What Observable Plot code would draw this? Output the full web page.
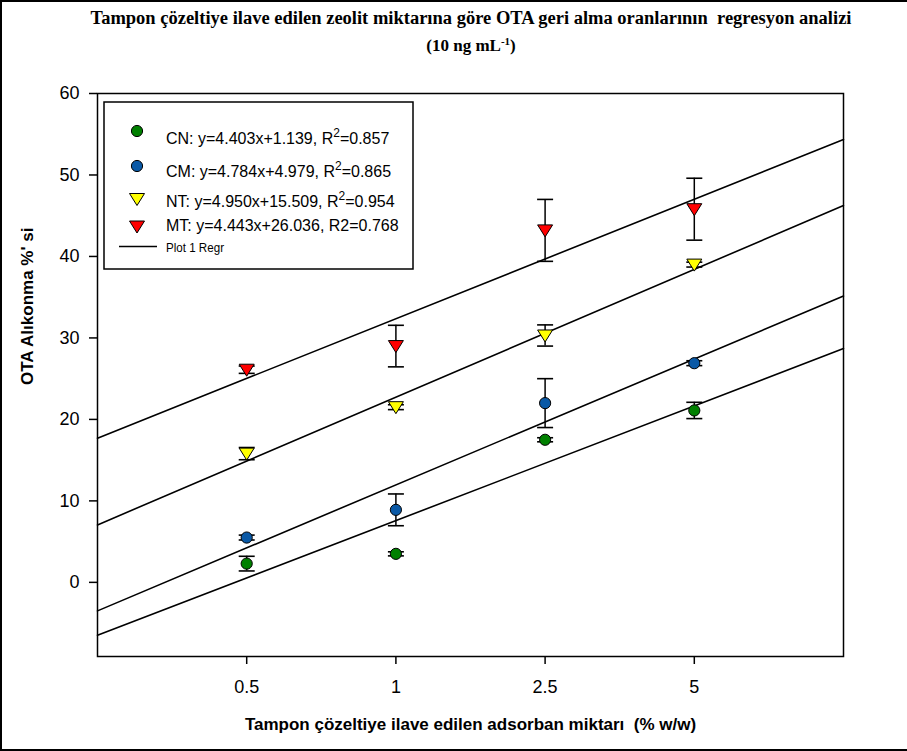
<!DOCTYPE html>
<html>
<head>
<meta charset="utf-8">
<script src="https://cdn.jsdelivr.net/npm/d3@7"></script>
<script src="https://cdn.jsdelivr.net/npm/@observablehq/plot@0.6"></script>
<style>
  body { margin: 0; background: #fff; }
  #fig { position: relative; width: 907px; height: 751px; overflow: hidden; background: #fff;
         font-family: Arial, "Liberation Sans", sans-serif; }
  #border { position: absolute; left: 0; top: 0; width: 930px; height: 751px; box-sizing: border-box;
            border: 2px solid #000; pointer-events: none; }
  .ttl { position: absolute; left: 0; width: 942px; text-align: center; font-family: "Liberation Serif", "Times New Roman", serif;
         font-weight: bold; color: #000; white-space: pre; }
  #t1 { top: 7px; line-height: 22px; font-size: 18.5px; }
  #t2 { top: 35px; line-height: 22px; font-size: 17px; }
  #t2 sup { font-size: 11px; vertical-align: 6px; line-height: 0; }
  #chart { position: absolute; left: 0; top: 0; }
  #legend { position: absolute; left: 0; top: 0; pointer-events: none; }
</style>
</head>
<body>
<div id="fig">
  <div id="chart"></div>
  <svg id="legend" width="907" height="751"></svg>
  <div class="ttl" id="t1"></div>
  <div class="ttl" id="t2"></div>
  <div id="border"></div>
</div>
<script>
// Zeolite amount added to the buffer (x categories) and OTA retention per sorbent
const doses = ["0.5", "1", "2.5", "5"];
const seriesNames = ["CN", "CM", "NT", "MT"];
const cnMean = [2.3, 3.5, 17.5, 21.1];
const cnErr  = [0.9, 0.25, 0.25, 1.0];
const cmMean = [5.5, 8.9, 22.0, 26.9];
const cmErr  = [0.3, 1.95, 3.0, 0.3];
const ntMean = [15.8, 21.5, 30.3, 39.0];
const ntErr  = [0.75, 0.3, 1.3, 0.3];
const mtMean = [26.1, 29.0, 43.2, 45.8];
const mtErr  = [0.45, 2.55, 3.8, 3.8];
const seriesColors = ["#008000", "#0a59a6", "#ffff00", "#ff0000"];
const seriesShapes = ["circle", "circle", "down", "down"];

const legendEquations = [
  ["CN: y=4.403x+1.139, R", "2", "=0.857"],
  ["CM: y=4.784x+4.979, R", "2", "=0.865"],
  ["NT: y=4.950x+15.509, R", "2", "=0.954"],
  ["MT: y=4.443x+26.036, R2=0.768", "", ""]
];
const regressionLegend = "Plot 1 Regr";

const titleLine1 = "Tampon çözeltiye ilave edilen zeolit miktarına göre OTA geri alma oranlarının  regresyon analizi";
const titleLine2 = ["(10 ng mL", "-1", ")"];
const xTitle = "Tampon çözeltiye ilave edilen adsorban miktarı  (% w/w)";
const yTitle = "OTA Alıkonma %' si";

const yTicks = [0, 10, 20, 30, 40, 50, 60];

// Titles
document.getElementById("t1").textContent = titleLine1;
{
  const t2 = document.getElementById("t2");
  t2.append(titleLine2[0]);
  const s = document.createElement("sup"); s.textContent = titleLine2[1]; t2.append(s);
  t2.append(titleLine2[2]);
}

// Long-format table: category position is the 1-based index of the dose
const means = [cnMean, cmMean, ntMean, mtMean];
const errs = [cnErr, cmErr, ntErr, mtErr];
const rows = [];
seriesNames.forEach((s, k) => {
  doses.forEach((d, i) => {
    rows.push({series: s, k, pos: i + 1, y: means[k][i], e: errs[k][i]});
  });
});

// Least-squares fit of each series against category position
const xDomain = [0, doses.length + 1];
const fits = seriesNames.map((s, k) => {
  const xs = doses.map((d, i) => i + 1), ys = means[k];
  const mx = d3.mean(xs), my = d3.mean(ys);
  const sxy = d3.sum(xs, (x, i) => (x - mx) * (ys[i] - my));
  const sxx = d3.sum(xs, x => (x - mx) ** 2);
  const b = sxy / sxx, a = my - b * mx;
  return {series: s, a, b};
});
const fitLines = fits.flatMap(f => xDomain.map(x => ({series: f.series, x, y: f.a + f.b * x})));

// Custom symbols: downward triangle and error-bar cap
const triangleDown = {
  draw(ctx, size) {
    const k = Math.sqrt(size / Math.PI) / 7;
    ctx.moveTo(-7.5 * k, -5.5 * k);
    ctx.lineTo(7.5 * k, -5.5 * k);
    ctx.lineTo(0, 6.5 * k);
    ctx.closePath();
  }
};
const capSymbol = {
  draw(ctx, size) {
    const w = Math.sqrt(size / Math.PI);
    ctx.moveTo(-w, 0);
    ctx.lineTo(w, 0);
  }
};
const colorOf = Object.fromEntries(seriesNames.map((s, k) => [s, seriesColors[k]]));
const circRows = rows.filter(r => seriesShapes[r.k] === "circle");
const triRows = rows.filter(r => seriesShapes[r.k] === "down");
const caps = rows.flatMap(r => [{pos: r.pos, y: r.y - r.e}, {pos: r.pos, y: r.y + r.e}]);

const chart = Plot.plot({
  width: 907,
  height: 751,
  marginLeft: 97,
  marginRight: 64,
  marginTop: 93,
  marginBottom: 95,
  style: {fontFamily: "Arial, 'Liberation Sans', sans-serif", fontSize: "18px", color: "#000", background: "transparent"},
  x: {domain: xDomain},
  y: {domain: [-9.1, 60]},
  marks: [
    Plot.axisX({ticks: doses.map((d, i) => i + 1), tickFormat: v => doses[v - 1], tickSize: 8, tickPadding: 16, strokeWidth: 1.5, label: null}),
    Plot.axisY({ticks: yTicks, tickSize: 8, tickPadding: 10, strokeWidth: 1.5, label: null}),
    Plot.line(fitLines, {x: "x", y: "y", z: "series", stroke: "#000", strokeWidth: 1.6}),
    Plot.ruleX(rows, {x: "pos", y1: d => d.y - d.e, y2: d => d.y + d.e, stroke: "#000", strokeWidth: 1.5}),
    Plot.dot(caps, {x: "pos", y: "y", symbol: capSymbol, r: 8, fill: "none", stroke: "#000", strokeWidth: 1.6}),
    Plot.dot(circRows, {x: "pos", y: "y", r: 5.6, fill: d => colorOf[d.series], stroke: "#000", strokeWidth: 1}),
    Plot.dot(triRows, {x: "pos", y: "y", symbol: triangleDown, r: 7, fill: d => colorOf[d.series], stroke: "#000", strokeWidth: 1}),
    Plot.frame({stroke: "#000", strokeWidth: 1.5}),
    Plot.text([xTitle], {frameAnchor: "bottom", dy: 73, fontWeight: "bold", fontSize: 17}),
    Plot.text([yTitle], {frameAnchor: "left", dx: -70, dy: 10, rotate: -90, fontWeight: "bold", fontSize: 17})
  ]
});
document.getElementById("chart").append(chart);

// Legend box inside the plot area
const lg = d3.select("#legend");
lg.append("rect").attr("x", 104).attr("y", 102).attr("width", 309).attr("height", 167)
  .attr("fill", "#fff").attr("stroke", "#000").attr("stroke-width", 1.5);
const markerY = [131, 166, 199, 226.5];
const textY = [138, 171, 201, 225];
seriesNames.forEach((s, k) => {
  const type = seriesShapes[k] === "circle" ? d3.symbolCircle : triangleDown;
  const size = seriesShapes[k] === "circle" ? Math.PI * 5.6 * 5.6 : Math.PI * 49;
  lg.append("path").attr("d", d3.symbol(type, size)())
    .attr("transform", `translate(137,${markerY[k]})`)
    .attr("fill", seriesColors[k]).attr("stroke", "#000").attr("stroke-width", 1);
  const t = lg.append("text").attr("x", 166).attr("y", textY[k]).attr("dy", "0.36em")
    .attr("font-family", "Arial, 'Liberation Sans', sans-serif").attr("font-size", 16).attr("fill", "#000");
  const [a, sup, b] = legendEquations[k];
  t.append("tspan").text(a);
  if (sup) {
    t.append("tspan").attr("dy", -7).attr("font-size", 12).text(sup);
    t.append("tspan").attr("dy", 7).text(b);
  }
});
lg.append("line").attr("x1", 119).attr("x2", 157).attr("y1", 246.5).attr("y2", 246.5)
  .attr("stroke", "#000").attr("stroke-width", 1.5);
lg.append("text").attr("x", 166).attr("y", 248).attr("dy", "0.36em")
  .attr("font-family", "Arial, 'Liberation Sans', sans-serif").attr("font-size", 12)
  .attr("fill", "#000").attr("textLength", 58).attr("lengthAdjust", "spacingAndGlyphs").text(regressionLegend);
</script>
</body>
</html>
